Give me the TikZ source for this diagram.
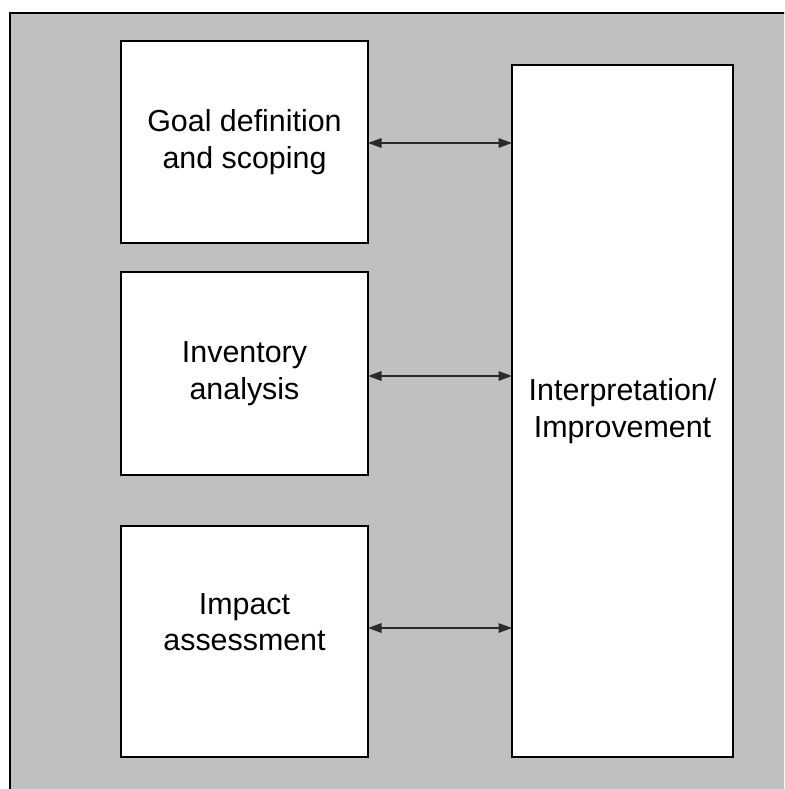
\documentclass[tikz,border=0pt]{standalone}
\usepackage{fontspec}
\setmainfont{Liberation Sans}
\usetikzlibrary{arrows.meta,positioning}
\definecolor{panel}{HTML}{C0C0C0}
\definecolor{link}{HTML}{2A2A2A}
\tikzset{
  stage/.style={draw=black, line width=2pt, fill=white, inner sep=0pt, outer sep=0pt},
  caption/.style={align=center, font=\fontsize{30.4}{36.5}\selectfont, inner sep=0pt},
  exchange/.style={{Triangle[length=13.5pt,width=9.5pt]}-{Triangle[length=13.5pt,width=9.5pt]},
                   draw=link, fill=link, line width=1.5pt},
}
\begin{document}
\begin{tikzpicture}[x=1pt,y=-1pt]
  \useasboundingbox (0,0) rectangle (784,789);
  \clip (0,0) rectangle (784,789);
  % grey panel whose right and bottom edges run off the page
  \draw[fill=panel, line width=1.5pt] (10,13) rectangle (820,820);

  % the three stages on the left
  \node[stage, minimum width=247pt, minimum height=202pt] (goal) at (244.5,142) {};
  \node[stage, minimum width=247pt, minimum height=203pt] (inv) at (244.5,373.5) {};
  \node[stage, minimum width=247pt, minimum height=231pt] (imp) at (244.5,641.5) {};
  % the interpretation column on the right
  \node[stage, minimum width=221pt, minimum height=692pt] (interp) at (622.5,411) {};

  \node[caption] (goaltxt) at (goal.center) {Goal definition\\and scoping};
  \node[caption] (invtxt) at (inv.center) {Inventory\\analysis};
  \node[caption] (imptxt) at (244.5,622) {Impact\\assessment};
  \node[caption] (interptxt) at (interp.center) {Interpretation/\\Improvement};

  % two-way links between each stage and the interpretation column
  \coordinate (goalrow) at (0,143);
  \coordinate (invrow) at (0,376);
  \coordinate (improw) at (0,628);
  \draw[exchange] (goal.east |- goalrow) -- (interp.west |- goalrow);
  \draw[exchange] (inv.east |- invrow) -- (interp.west |- invrow);
  \draw[exchange] (imp.east |- improw) -- (interp.west |- improw);
\end{tikzpicture}
\end{document}
